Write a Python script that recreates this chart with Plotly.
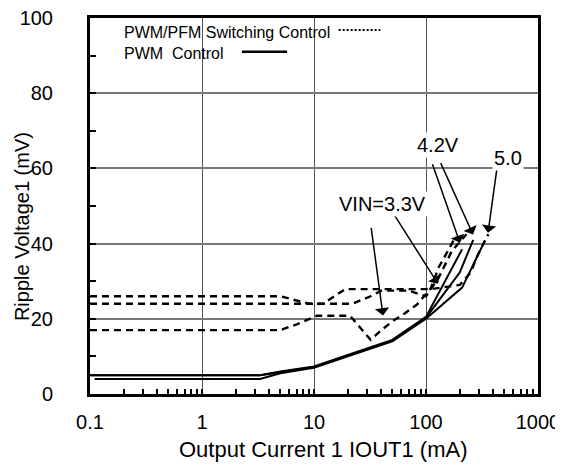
import numpy as np
import plotly.graph_objects as go

# PWM control (solid), mA -> mV
pwm_33_x = [0.1, 3.3, 5, 10, 21, 39, 50, 100, 210]
pwm_33_y = [5, 5, 6, 7.3, 10.6, 13.3, 14.4, 20.5, 38.5]
pwm_42_x = [0.1, 3.3, 5, 10, 21, 39, 50, 100, 200, 264]
pwm_42_y = [5, 5, 5.8, 7.2, 10.4, 13.1, 14.2, 20.3, 32.3, 41]
pwm_50_x = [0.11, 3.3, 5, 10, 21, 39, 50, 100, 210, 336]
pwm_50_y = [4, 4, 5.5, 7.0, 10.2, 13.0, 14.0, 20.0, 28.3, 40.8]

# PWM/PFM switching control (dashed)
pfm_33_x = [0.1, 5, 7, 10.6, 21, 32, 40, 50, 65, 83, 110, 130, 155, 185]
pfm_33_y = [17, 17, 18.5, 20.8, 20.8, 14.4, 17, 19.3, 21.5, 23.8, 28, 33.7, 37.8, 42]
pfm_42_x = [0.1, 12, 22, 32, 40, 70, 100, 130, 170, 230]
pfm_42_y = [24, 24, 24, 26, 27.5, 27.5, 26, 31, 38, 42.5]
pfm_50_x = [0.1, 5, 9, 12, 19, 110, 200, 250, 290, 360]
pfm_50_y = [26, 26, 24, 24, 27.9, 27.9, 29, 32.3, 37, 42.5]

x_ticks = [0.1, 1, 10, 100, 1000]
x_minor = [m * d for d in [0.1, 1, 10, 100] for m in range(2, 10)]
y_ticks = [0, 20, 40, 60, 80, 100]

FONT = "Arial, Liberation Sans, sans-serif"

fig = go.Figure()

for xs, ys in [(pfm_33_x, pfm_33_y), (pfm_42_x, pfm_42_y), (pfm_50_x, pfm_50_y)]:
    fig.add_trace(go.Scatter(x=xs, y=ys, mode="lines",
                             line=dict(color="black", width=2.4, dash="7px,5px")))

for xs, ys in [(pwm_33_x, pwm_33_y), (pwm_42_x, pwm_42_y), (pwm_50_x, pwm_50_y)]:
    fig.add_trace(go.Scatter(x=xs, y=ys, mode="lines",
                             line=dict(color="black", width=2)))

# legend box (custom, text first then line sample)
fig.add_shape(type="rect", xref="paper", yref="paper", x0=0.011, x1=0.636, y0=0.853, y1=1.0,
              fillcolor="white", line=dict(width=0), layer="below")
fig.add_shape(type="line", xref="paper", yref="paper", x0=0.555, x1=0.648, y0=0.968, y1=0.968,
              line=dict(color="black", width=2, dash="2px,2px"))
fig.add_shape(type="line", xref="paper", yref="paper", x0=0.339, x1=0.440, y0=0.910, y1=0.910,
              line=dict(color="black", width=2.5))
fig.add_annotation(text="PWM/PFM Switching Control", xref="paper", yref="paper",
                   x=0.071, y=0.962, xanchor="left", yanchor="middle", showarrow=False,
                   font=dict(size=16))
fig.add_annotation(text="PWM  Control", xref="paper", yref="paper",
                   x=0.071, y=0.906, xanchor="left", yanchor="middle", showarrow=False,
                   font=dict(size=16))

# axis titles
fig.add_annotation(text="Output Current 1 IOUT1 (mA)", xref="paper", yref="paper",
                   x=0.522, y=-0.147, xanchor="center", yanchor="middle", showarrow=False,
                   font=dict(size=22))
fig.add_annotation(text="Ripple Voltage1 (mV)", xref="paper", yref="paper", textangle=-90,
                   x=-0.150, y=0.446, xanchor="center", yanchor="middle", showarrow=False,
                   font=dict(size=20))

# arrows: tip (mA, mV), tail offset in px
arrows = [(41.3, 20.9, -12, -89), (128, 29.3, -45, -71),
          (201, 40.2, -28, -80), (263, 42.4, -33, -73), (358, 42.9, 9, -65)]
for ax_, ay_, dx, dy in arrows:
    fig.add_annotation(x=np.log10(ax_), y=ay_, ax=dx, ay=dy, showarrow=True,
                       arrowhead=1, arrowsize=1.6, arrowwidth=1.5, arrowcolor="black", text="")

labels = [("VIN=3.3V", 40.5, 50.5), ("4.2V", 128, 66.3), ("5.0", 537, 62.8)]
for txt, lx, ly in labels:
    fig.add_annotation(x=np.log10(lx), y=ly, text=txt, showarrow=False,
                       bgcolor="white", font=dict(size=20))

# the page adds an 8px body margin, so the figure is sized to fit the window
fig.update_layout(
    width=555, height=457,
    margin=dict(l=82, r=25, t=10, b=71),
    plot_bgcolor="white", paper_bgcolor="white",
    showlegend=False,
    font=dict(family=FONT, size=20, color="black"),
)
fig.update_xaxes(
    type="log", range=[-1, 3], tickvals=x_ticks, ticktext=["0.1", "1", "10", "100", "1000"],
    ticks="inside", ticklen=5, tickwidth=1.5, tickcolor="black",
    minor=dict(tickvals=x_minor, ticks="inside", ticklen=5, tickwidth=1.5, tickcolor="black", showgrid=False),
    showgrid=True, gridcolor="#555555", gridwidth=1,
    showline=True, linewidth=3, linecolor="black", mirror=True,
    ticklabelstandoff=8, automargin=False, ticklabeloverflow="allow",
    zeroline=False,
)
fig.update_yaxes(
    range=[0, 100], tickvals=y_ticks,
    ticks="inside", ticklen=6, tickwidth=1.5, tickcolor="black",
    minor=dict(tickvals=[10, 30, 50, 70, 90], ticks="inside", ticklen=6, tickwidth=1.5,
               tickcolor="black", showgrid=False),
    showgrid=True, gridcolor="#777777", gridwidth=1.5,
    showline=True, linewidth=3, linecolor="black", mirror=True,
    ticklabelstandoff=30, automargin=False, ticklabeloverflow="allow",
    zeroline=False,
)

fig.write_html("out.html")
